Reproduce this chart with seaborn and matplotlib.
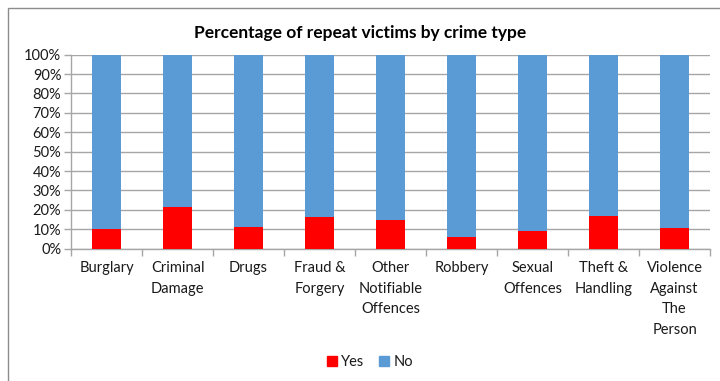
import matplotlib
matplotlib.use("Agg")
import matplotlib.pyplot as plt
import matplotlib.patches as mpatches
import seaborn as sns
import pandas as pd

categories = ["Burglary", "Criminal\nDamage", "Drugs", "Fraud &\nForgery",
              "Other\nNotifiable\nOffences", "Robbery", "Sexual\nOffences",
              "Theft &\nHandling", "Violence\nAgainst\nThe\nPerson"]
yes_pct = [10.2, 21.5, 11.2, 16.3, 14.8, 6.2, 9.3, 16.9, 10.7]
no_pct = [89.8, 78.5, 88.8, 83.7, 85.2, 93.8, 90.7, 83.1, 89.3]
series_labels = ["Yes", "No"]
yticks = [0, 10, 20, 30, 40, 50, 60, 70, 80, 90, 100]

RED = "#FF0000"
BLUE = "#5B9BD5"
TXT = "#1a1a1a"
GRID = "#A6A6A6"

sns.set_theme(style="white")
plt.rcParams['font.family'] = ['Lato', 'DejaVu Sans']

df = pd.DataFrame({"cat": categories, "yes": yes_pct, "no": no_pct})
df["total"] = df["yes"] + df["no"]

fig = plt.figure(figsize=(7.2, 3.81), dpi=100)
ax = fig.add_axes([71/720, 1-248.7/381, (710-71)/720, (248.7-54.7)/381])

sns.barplot(data=df, x="cat", y="total", color=BLUE, width=0.41,
            saturation=1, ax=ax, zorder=2, linewidth=0, edgecolor="none")
sns.barplot(data=df, x="cat", y="yes", color=RED, width=0.41,
            saturation=1, ax=ax, zorder=3, linewidth=0, edgecolor="none")

ax.set_ylim(0, 100)
ax.set_xlim(-0.5, len(categories)-0.5)
ax.set_yticks(yticks)
ax.set_yticklabels([f"{v}%" for v in yticks], fontsize=10.5, color=TXT)
ax.set_xticks(range(len(categories)))
ax.set_xticklabels(categories, fontsize=10.5, color=TXT, linespacing=1.6,
                   va="top")
ax.set_xticks([i - 0.5 for i in range(len(categories)+1)], minor=True)
ax.tick_params(axis="x", which="major", length=0, pad=9)
ax.tick_params(axis="x", which="minor", length=5, width=1, color=GRID,
               direction="out", bottom=True)
ax.tick_params(axis="y", which="major", length=5, width=1, color=GRID,
               direction="out", left=True, pad=2)
ax.set_xlabel("")
ax.set_ylabel("")
ax.yaxis.grid(True, color=GRID, linewidth=1, zorder=0)
ax.set_axisbelow(True)
for s in ["top", "right"]:
    ax.spines[s].set_visible(False)
for s in ["left", "bottom"]:
    ax.spines[s].set_color(GRID)
    ax.spines[s].set_linewidth(1)

fig.text(0.5, 1-33/381, "Percentage of repeat victims by crime type",
         ha="center", va="center", fontsize=12.5, fontweight="bold", color="#000000")

handles = [mpatches.Patch(color=RED, label=series_labels[0]),
           mpatches.Patch(color=BLUE, label=series_labels[1])]
fig.legend(handles=handles, loc="center", bbox_to_anchor=(0.514, 1-362/381),
           ncol=2, frameon=False, fontsize=10.5, handlelength=0.7,
           handleheight=0.7, handletextpad=0.3, columnspacing=1.0,
           labelcolor=TXT)

frame = mpatches.Rectangle((8/720, -0.05), 1.2, (381-8)/381 + 0.05,
                           transform=fig.transFigure, fill=False,
                           edgecolor="#8C8C8C", linewidth=1)
fig.patches.append(frame)

fig.savefig("out.png", dpi=100)
